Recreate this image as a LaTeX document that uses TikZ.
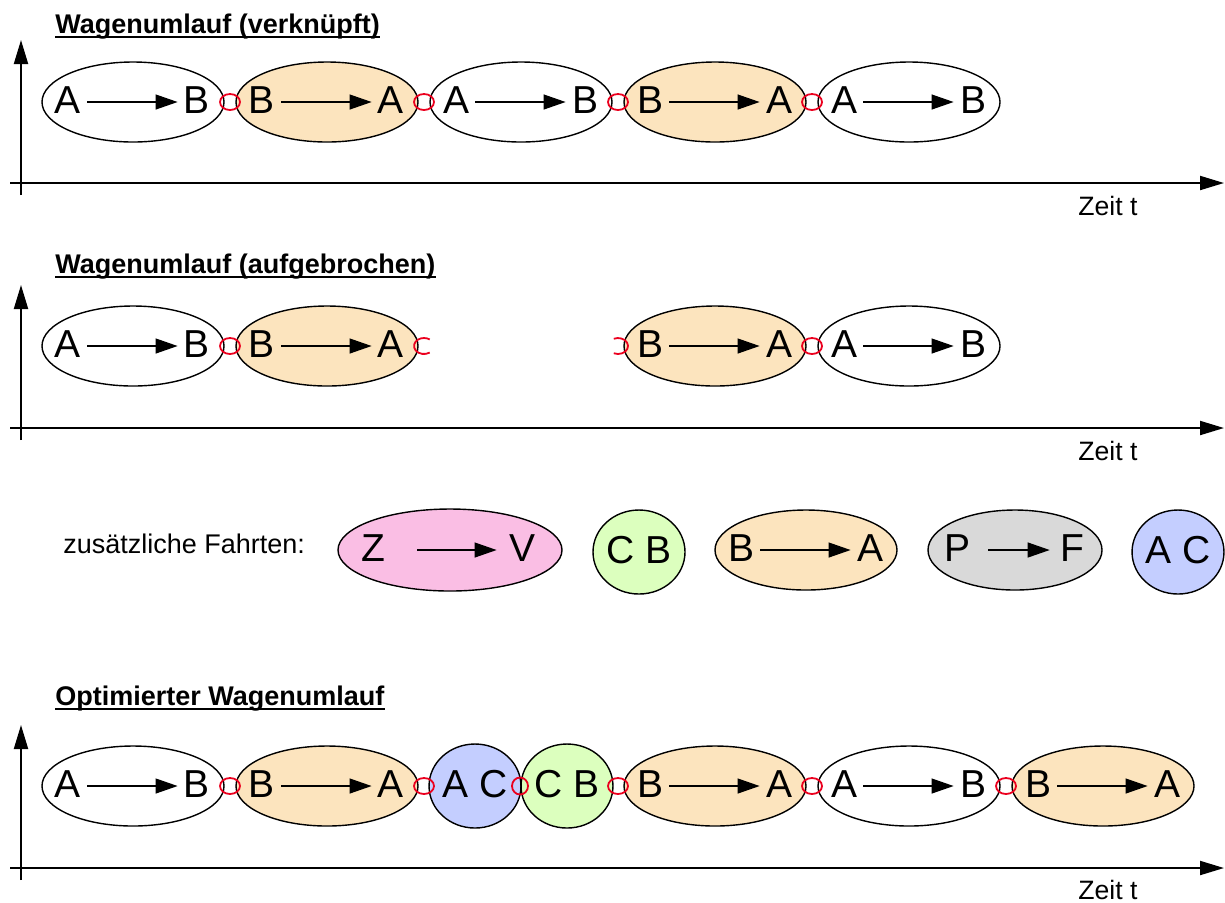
\documentclass[tikz,border=0pt]{standalone}
\usepackage{fontspec}
\setmainfont{Liberation Sans}
\usetikzlibrary{shapes.geometric,arrows.meta,calc}
\definecolor{orangef}{RGB}{252,228,190}
\definecolor{pinkf}{RGB}{250,190,228}
\definecolor{greenf}{RGB}{220,255,190}
\definecolor{grayf}{RGB}{217,217,217}
\definecolor{bluef}{RGB}{196,206,255}
\definecolor{ringred}{RGB}{235,0,30}
\newcommand\tripnode[6]{%
  \node[trip,fill=#4] (#1) at (#2,#3) {};
  \node[lt] (#1l) at ($(#1)+(-65,0)$) {#5};
  \node[lt] (#1r) at ($(#1)+(64,0)$) {#6};
  \draw[tarrow] (#1l) -- (#1r);
}
\begin{document}
\begin{tikzpicture}[x=0.5pt,y=-0.5pt,
  trip/.style={ellipse,draw,line width=0.7pt,minimum width=91pt,minimum height=40pt,inner sep=0pt},
  roundtrip/.style={ellipse,draw,line width=0.7pt,minimum width=45pt,minimum height=42pt,inner sep=0pt,font=\fontsize{19.5}{20}\selectfont,text height=14pt,text depth=3pt},
  lt/.style={inner sep=0pt,font=\fontsize{19.5}{20}\selectfont,text height=14pt,text depth=3pt},
  tarrow/.style={line width=0.6pt,-{Triangle[length=11pt,width=7.5pt]},shorten <=3pt,shorten >=3pt},
  axis/.style={line width=1pt,-{Triangle[length=12pt,width=7pt]}},
  ring/.style={ellipse,draw=ringred,line width=0.9pt,minimum width=10pt,minimum height=8pt,inner sep=0pt},
  ringline/.style={draw=ringred,line width=0.9pt},
  title/.style={inner sep=0pt,anchor=base west,font=\fontsize{13.5}{16}\selectfont\bfseries},
  small/.style={inner sep=0pt,anchor=base west,font=\fontsize{13.3}{16}\selectfont},
  uline/.style={line width=0.8pt}]
\useasboundingbox (0,0) rectangle (1225,902);

% ---------- Row 1 ----------
\node[title] (t1) at (55,33) {Wagenumlauf (verknüpft)};
\draw[uline] ([yshift=-1.9pt]t1.base west) -- ([yshift=-1.9pt]t1.base east);
\coordinate (v1s) at (21,195); \coordinate (v1e) at (21,40);
\coordinate (h1s) at (10,183); \coordinate (h1e) at (1224,183);
\draw[axis] (v1s) -- (v1e);
\draw[axis] (h1s) -- (h1e);
\node[small] (z1) at (1078,215) {Zeit t};
\tripnode{a1}{133}{102}{white}{A}{B}
\tripnode{a2}{327}{102}{orangef}{B}{A}
\tripnode{a3}{521}{102}{white}{A}{B}
\tripnode{a4}{715}{102}{orangef}{B}{A}
\tripnode{a5}{909}{102}{white}{A}{B}
\node[ring] (r11) at (230,102) {};
\node[ring] (r12) at (424,102) {};
\node[ring] (r13) at (618,102) {};
\node[ring] (r14) at (812,102) {};

% ---------- Row 2 ----------
\node[title] (t2) at (55,273) {Wagenumlauf (aufgebrochen)};
\draw[uline] ([yshift=-1.9pt]t2.base west) -- ([yshift=-1.9pt]t2.base east);
\coordinate (v2s) at (21,440); \coordinate (v2e) at (21,285);
\coordinate (h2s) at (10,428); \coordinate (h2e) at (1224,428);
\draw[axis] (v2s) -- (v2e);
\draw[axis] (h2s) -- (h2e);
\node[small] (z2) at (1078,460) {Zeit t};
\tripnode{b1}{133}{346}{white}{A}{B}
\tripnode{b2}{327}{346}{orangef}{B}{A}
\tripnode{b3}{715}{346}{orangef}{B}{A}
\tripnode{b4}{909}{346}{white}{A}{B}
\node[ring] (r21) at (230,346) {};
\node[ring] (r24) at (812,346) {};
\coordinate (h22) at (424,346);
\coordinate (h23) at (618,346);
\draw[ringline] ([shift={(55:10 and 8)}]h22) arc[start angle=55,end angle=305,x radius=10,y radius=8];
\draw[ringline] ([shift={(-115:10 and 8)}]h23) arc[start angle=-115,end angle=115,x radius=10,y radius=8];

% ---------- Row 3 ----------
\node[small,font=\fontsize{13.5}{16}\selectfont] (zf) at (63,553) {zusätzliche Fahrten:};
\node[trip,fill=pinkf,minimum width=112pt,minimum height=41pt] (p) at (450,550) {};
\node[lt] (pl) at (373,550) {Z};
\node[lt] (pr) at (522,550) {V};
\draw[tarrow,shorten <=16pt,shorten >=6pt] (pl) -- (pr);
\node[roundtrip,fill=greenf,minimum width=46pt] (g) at (639,552) {C B};
\tripnode{o}{806}{550}{orangef}{B}{A}
\node[trip,fill=grayf,minimum width=87pt] (q) at (1015,550) {};
\node[lt] (ql) at (957,550) {P};
\node[lt] (qr) at (1072,550) {F};
\draw[tarrow,shorten <=9pt,shorten >=5pt] (ql) -- (qr);
\node[roundtrip,fill=bluef] (bl) at (1178,552) {A C};

% ---------- Row 4 ----------
\node[title] (t4) at (55,705) {Optimierter Wagenumlauf};
\draw[uline] ([yshift=-1.9pt]t4.base west) -- ([yshift=-1.9pt]t4.base east);
\coordinate (v4s) at (21,880); \coordinate (v4e) at (21,725);
\coordinate (h4s) at (10,868); \coordinate (h4e) at (1224,868);
\draw[axis] (v4s) -- (v4e);
\draw[axis] (h4s) -- (h4e);
\node[small] (z4) at (1078,899) {Zeit t};
\tripnode{c1}{133}{786}{white}{A}{B}
\tripnode{c2}{327}{786}{orangef}{B}{A}
\node[roundtrip,fill=bluef] (c3) at (475,786) {A C};
\node[roundtrip,fill=greenf] (c4) at (567,786) {C B};
\tripnode{c5}{715}{786}{orangef}{B}{A}
\tripnode{c6}{909}{786}{white}{A}{B}
\tripnode{c7}{1103}{786}{orangef}{B}{A}
\node[ring] (r41) at (230,786) {};
\node[ring] (r42) at (424,786) {};
\node[ring,minimum width=8pt,minimum height=8.5pt] (r43) at (520,786) {};
\node[ring] (r44) at (618,786) {};
\node[ring] (r45) at (812,786) {};
\node[ring] (r46) at (1006,786) {};
\end{tikzpicture}
\end{document}
